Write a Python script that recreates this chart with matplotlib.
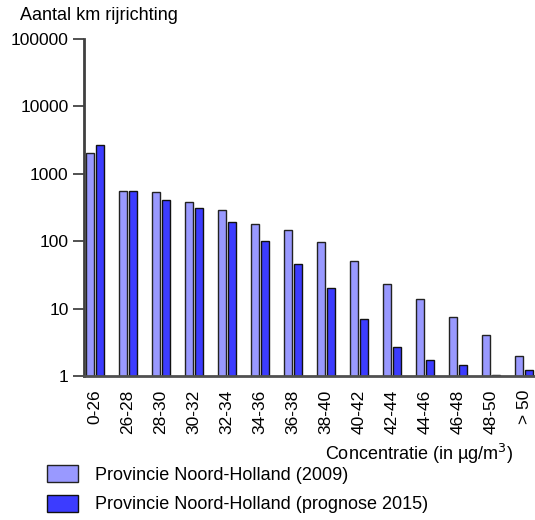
import numpy as np
import matplotlib
matplotlib.use("Agg")
import matplotlib.pyplot as plt

plt.rcParams['font.family'] = ['Liberation Sans', 'DejaVu Sans']

# klassen concentratie
klassen = ["0-26", "26-28", "28-30", "30-32", "32-34", "34-36", "36-38",
           "38-40", "40-42", "42-44", "44-46", "46-48", "48-50", "> 50"]
# km rijrichting 2009
km_2009 = [2000, 560, 535, 380, 288, 181, 148, 98, 50, 23.4, 13.9, 7.5, 4.1, 1.95]
# km rijrichting prognose 2015
km_2015 = [2700, 550, 408, 310, 195, 100, 46, 20.4, 6.9, 2.65, 1.73, 1.44, 1.03, 1.23]

licht = '#9999ff'
donker = '#3c3cff'

fig = plt.figure(figsize=(5.35, 5.2), dpi=100)
ax = fig.add_axes([0.157, 0.277, 0.843, 0.648])

x = np.arange(len(klassen))
b1 = ax.bar(x - 0.15, km_2009, width=0.24, color=licht, edgecolor='#222222',
            linewidth=1, label="Provincie Noord-Holland (2009)")
b2 = ax.bar(x + 0.15, km_2015, width=0.24, color=donker, edgecolor='#111111',
            linewidth=1, label="Provincie Noord-Holland (prognose 2015)")

ax.set_yscale('log')
ax.set_ylim(1, 100000)
ax.set_xlim(-0.333, 13.33)
ax.set_yticks([1, 10, 100, 1000, 10000, 100000])
ax.set_yticklabels(["1", "10", "100", "1000", "10000", "100000"])
ax.yaxis.set_minor_locator(matplotlib.ticker.NullLocator())
ax.tick_params(axis='y', length=8, width=1.2, color='#333333', labelsize=12.5, pad=3)
ax.set_xticks(x)
ax.set_xticklabels(klassen, rotation=90, fontsize=12.5)
ax.tick_params(axis='x', length=0, pad=10)

for s in ['top', 'right']:
    ax.spines[s].set_visible(False)
ax.spines['left'].set_color('#404040')
ax.spines['left'].set_linewidth(2)
ax.spines['bottom'].set_color('#505050')
ax.spines['bottom'].set_linewidth(2)

fig.text(20/535, 1 - 15/520, "Aantal km rijrichting", fontsize=13, ha='left', va='center')
fig.text(513/535, 1 - 454/520, "Concentratie (in µg/m$^3$)", fontsize=13, ha='right', va='center')

fig.legend(handles=[b1, b2], loc='upper left', bbox_to_anchor=(47/535, 1 - 465/520),
           frameon=False, fontsize=13, handlelength=1.7, handleheight=1.1,
           handletextpad=0.95, labelspacing=0.6, borderpad=0, borderaxespad=0)

fig.savefig("out.png", dpi=100)
